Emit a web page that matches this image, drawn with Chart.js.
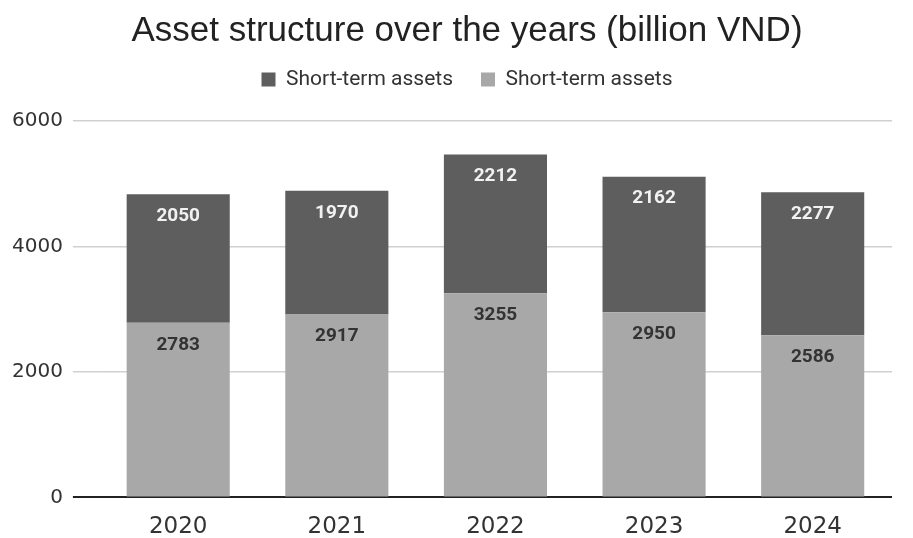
<!DOCTYPE html>
<html>
<head>
<meta charset="utf-8">
<script src="https://cdn.jsdelivr.net/npm/chart.js@4/dist/chart.umd.min.js"></script>
<style>
  html, body { margin: 0; padding: 0; background: #fff; }
  #wrap { width: 913px; height: 538px; position: relative; }
</style>
</head>
<body>
<div id="wrap"><canvas id="chart"></canvas></div>
<script>
// --- DATA ---
const years = ['2020', '2021', '2022', '2023', '2024'];
const lowerValues = [2783, 2917, 3255, 2950, 2586];   // light segment (bottom)
const upperValues = [2050, 1970, 2212, 2162, 2277];   // dark segment (top)
const seriesNames = ['Short-term assets', 'Short-term assets'];
const yTicks = [0, 2000, 4000, 6000];

const DARK = '#5e5e5e';
const LIGHT = '#a8a8a8';

// value labels near the top inside each segment
const segmentLabels = {
    id: 'segmentLabels',
    afterDatasetsDraw(chart) {
        const ctx = chart.ctx;
        ctx.save();
        ctx.textAlign = 'center';
        ctx.textBaseline = 'middle';
        ctx.font = 'bold 19px Roboto, "Liberation Sans", sans-serif';
        chart.data.datasets.forEach((ds, i) => {
            const meta = chart.getDatasetMeta(i);
            meta.data.forEach((bar, j) => {
                ctx.fillStyle = ds.labelColor;
                ctx.fillText(ds.data[j], bar.x, bar.y + 22);
            });
        });
        ctx.restore();
    }
};

// extra room under the legend, and nudge title/legend a bit right
const legendGap = {
    id: 'legendGap',
    beforeInit(chart) {
        const fit = chart.legend.fit;
        chart.legend.fit = function () {
            fit.bind(chart.legend)();
            this.height += 21;
        };
    },
    afterLayout(chart) {
        [chart.titleBlock, chart.legend].forEach(b => {
            b.left += 20;
            b.right += 20;
        });
    }
};

new Chart(document.getElementById('chart'), {
    type: 'bar',
    data: {
        labels: years,
        datasets: [
            {
                label: seriesNames[1],
                data: lowerValues,
                backgroundColor: LIGHT,
                labelColor: '#333',
                categoryPercentage: 1,
                barPercentage: 0.65
            },
            {
                label: seriesNames[0],
                data: upperValues,
                backgroundColor: DARK,
                labelColor: '#f2f2f2',
                categoryPercentage: 1,
                barPercentage: 0.65
            }
        ]
    },
    options: {
        responsive: true,
        maintainAspectRatio: false,
        animation: false,
        layout: { padding: { left: 2, right: 21, top: 0, bottom: -11 } },
        plugins: {
            title: {
                display: true,
                text: 'Asset structure over the years (billion VND)',
                color: '#222',
                font: { family: '"Liberation Sans", Arial, sans-serif', size: 35, weight: 'normal', lineHeight: 1 },
                padding: { top: 14, bottom: -8 }
            },
            legend: {
                reverse: true,
                labels: {
                    color: '#333',
                    boxWidth: 14,
                    boxHeight: 14,
                    padding: 28,
                    font: { family: 'Roboto, "Liberation Sans", sans-serif', size: 21 }
                }
            },
            tooltip: { enabled: false }
        },
        scales: {
            x: {
                stacked: true,
                grid: { display: false },
                border: { display: false },
                ticks: {
                    color: '#333',
                    padding: 8,
                    font: { family: '"DejaVu Sans", sans-serif', size: 23 }
                }
            },
            y: {
                stacked: true,
                min: 0,
                max: 6000,
                afterBuildTicks: axis => { axis.ticks = yTicks.map(v => ({ value: v })); },
                grid: {
                    color: c => c.tick && c.tick.value === 0 ? '#222' : '#d0d0d0',
                    lineWidth: c => c.tick && c.tick.value === 0 ? 2 : 1.5,
                    tickLength: 26
                },
                border: { display: false },
                ticks: {
                    color: '#333',
                    padding: 10,
                    callback: v => String(v),
                    font: { family: '"DejaVu Sans", sans-serif', size: 20 }
                }
            }
        }
    },
    plugins: [segmentLabels, legendGap]
});
</script>
</body>
</html>
